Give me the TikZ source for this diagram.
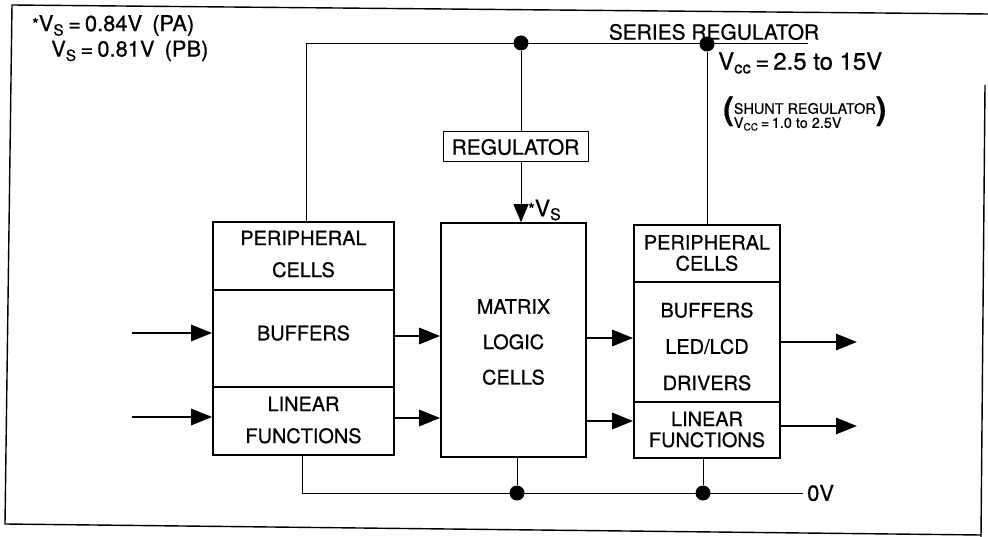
\documentclass[tikz,border=0pt]{standalone}
\usepackage{fontspec}
\setmainfont[FakeBold=0.6]{TeX Gyre Heros}
\usetikzlibrary{arrows.meta}
\newcommand\bxfont{\fontsize{20}{32}\selectfont}
\newcommand\astk{\raisebox{1bp}{\fontsize{17}{17}\selectfont *}}
\tikzset{
  boxsec/.style={draw, line width=1.6bp, inner sep=0pt, align=center},
  wire/.style={line width=0.9bp},
  bigarrow/.style={line width=2.8bp, -{Triangle[length=21bp,width=16bp]}},
  junction/.style={circle, fill, inner sep=0pt, minimum size=15bp},
  txt/.style={inner sep=0pt, align=center},
}
\begin{document}
\begin{tikzpicture}[x=1bp,y=-1bp]
\useasboundingbox (0,0) rectangle (988,537);
% frame
\draw[line width=1.4bp] (988,14) -- (12,5) -- (5,524) -- (981,535);
\draw[line width=1.4bp] (985,85) -- (981,537);

% left block
\node[boxsec, minimum width=181bp, minimum height=68bp] (lp) at (303.5,256) {};
\node[boxsec, minimum width=181bp, minimum height=97bp] (lb) at (303.5,338.5) {};
\node[boxsec, minimum width=181bp, minimum height=68bp] (ll) at (303.5,421) {};
\node[txt, font=\fontsize{20}{32}\selectfont] (lpt) at (303.5,254) {PERIPHERAL\\CELLS};
\node[txt, font=\bxfont] (lbt) at (303.5,333) {BUFFERS};
\node[txt, font=\fontsize{20}{32}\selectfont] (llt) at (303.5,420) {LINEAR\\FUNCTIONS};

% middle block
\node[boxsec, minimum width=145bp, minimum height=234bp] (mid) at (513.5,340) {};
\node[txt, font=\fontsize{20}{35.5}\selectfont] (midt) at (513.5,342) {MATRIX\\LOGIC\\CELLS};

% right block
\node[boxsec, minimum width=146bp, minimum height=57bp] (rp) at (707,253.5) {};
\node[boxsec, minimum width=146bp, minimum height=120bp] (rb) at (707,342) {};
\node[boxsec, minimum width=146bp, minimum height=56bp] (rl) at (707,430) {};
\node[txt, font=\fontsize{20}{21}\selectfont] (rpt) at (707,253) {PERIPHERAL\\CELLS};
\node[txt, font=\fontsize{20}{36.5}\selectfont] (rbt) at (707,346.5) {BUFFERS\\LED/LCD\\DRIVERS};
\node[txt, font=\fontsize{20}{21}\selectfont] (rlt) at (707,429.5) {LINEAR\\FUNCTIONS};

% regulator
\node[draw, line width=1bp, inner sep=0pt, minimum width=145bp, minimum height=30bp,
      font=\fontsize{21}{21}\selectfont] (reg) at (515.5,147) {REGULATOR};

% junctions
\node[junction] (d1) at (521,43) {};
\node[junction] (d2) at (707,44) {};
\node[junction] (d3) at (517,493) {};
\node[junction] (d4) at (703,493) {};
\coordinate (tl) at (306,43);
\coordinate (tr) at (808,43);
\coordinate (bl) at (302,493);
\coordinate (br) at (803,493);

% supply wires
\draw[wire] (lp.north -| tl) -- (tl) -- (tr);
\draw[wire] (d1) -- (d1 |- reg.north);
\draw[wire] (d2) -- (d2 |- rp.north);
\draw[wire, -{Triangle[length=18bp,width=15bp]}] (reg.south -| d1) -- (mid.north -| d1);
\draw[wire] (ll.south -| bl) -- (bl) -- (br);
\draw[wire] (mid.south -| d3) -- (d3);
\draw[wire] (rl.south -| d4) -- (d4);

% signal arrows
\coordinate (in1) at (132,333);
\coordinate (in2) at (132,417);
\coordinate (ya) at (0,336);
\coordinate (yb) at (0,418);
\coordinate (yc) at (0,338);
\coordinate (yd) at (0,421);
\coordinate (out1) at (857,342);
\coordinate (out2) at (857,426);
\draw[bigarrow] (in1) -- (in1 -| lb.west);
\draw[bigarrow] (in2) -- (in2 -| ll.west);
\draw[bigarrow] (lb.east |- ya) -- (mid.west |- ya);
\draw[bigarrow] (ll.east |- yb) -- (mid.west |- yb);
\draw[bigarrow] (mid.east |- yc) -- (rb.west |- yc);
\draw[bigarrow] (mid.east |- yd) -- (rl.west |- yd);
\draw[bigarrow] (rb.east |- out1) -- (out1);
\draw[bigarrow] (rl.east |- out2) -- (out2);

% labels
\node[anchor=west, inner sep=4bp, font=\fontsize{22}{22}\selectfont] (zero) at (br) {0V};
\node[txt, font=\fontsize{21}{21}\selectfont] (series) at (714,32) {SERIES REGULATOR};
\node[anchor=west, inner sep=0pt, font=\fontsize{24}{24}\selectfont] (vcc) at (718,63)
  {V\textsubscript{cc}\hspace{4bp}=\hspace{4bp}2.5 to 15V};
\node[anchor=west, inner sep=0pt] (shunt) at (723,114)
  {{\fontsize{32}{32}\selectfont\bfseries (}\begin{tabular}{@{}l@{}}\fontsize{14.5}{12.5}\selectfont SHUNT REGULATOR\\ \fontsize{14.5}{12.5}\selectfont V\textsubscript{CC}\,=\,1.0 to 2.5V\end{tabular}{\fontsize{32}{32}\selectfont\bfseries )}};
\node[anchor=west, inner sep=0pt, font=\fontsize{23}{23}\selectfont] (vsarrow) at (528,210)
  {\astk V\textsubscript{S}};
\node[anchor=north west, inner sep=0pt, align=left, font=\fontsize{22}{25.5}\selectfont] (note) at (32,15)
  {\astk V\textsubscript{S}\hspace{4bp}=\hspace{4bp}0.84V\hspace{10bp}(PA)\\
   \hspace{19bp}V\textsubscript{S}\hspace{4bp}=\hspace{4bp}0.81V\hspace{10bp}(PB)};
\end{tikzpicture}
\end{document}
